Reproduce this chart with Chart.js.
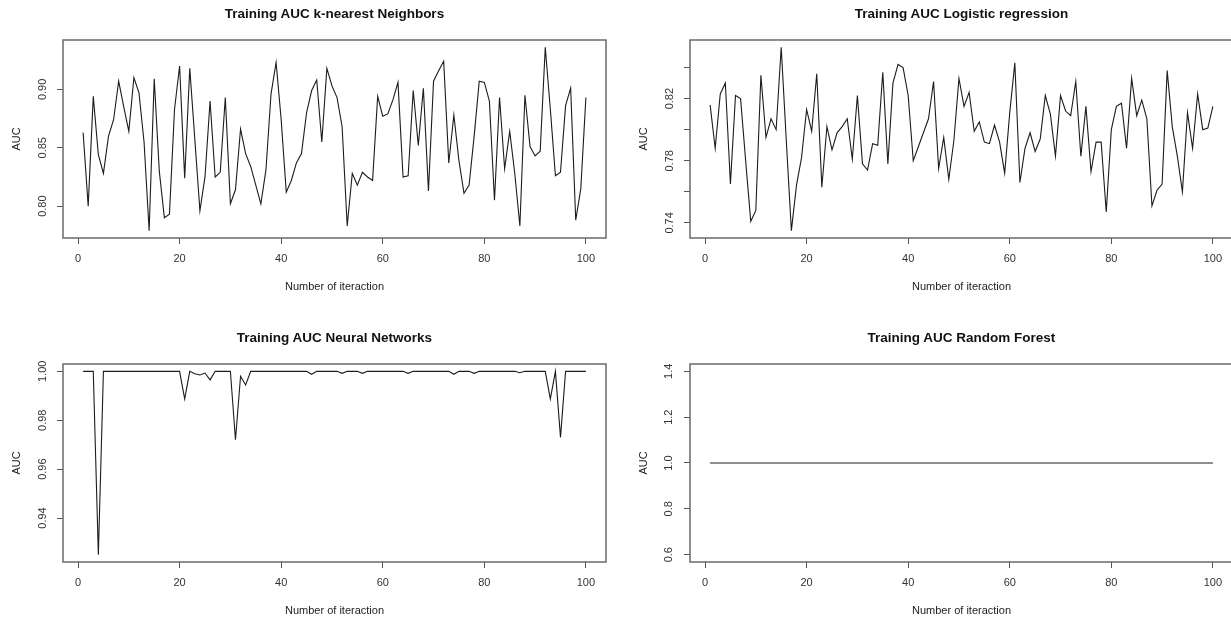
<!DOCTYPE html>
<html>
<head>
<meta charset="utf-8">
<script src="https://cdn.jsdelivr.net/npm/chart.js@4/dist/chart.umd.min.js"></script>
<style>
  html, body { margin: 0; padding: 0; background: #fff; overflow: hidden; width: 1231px; height: 620px; }
  .panel { position: absolute; }
  .ptitle {
    position: absolute; width: 543px; text-align: center;
    font: bold 13.5px 'Liberation Sans', Arial, sans-serif; line-height: 16px; color: #111;
    white-space: nowrap;
  }
</style>
</head>
<body>
<div class="panel" style="left:0px;top:0px"><canvas id="knnChart" width="615" height="310"></canvas></div>
<div class="panel" style="left:627px;top:0px"><canvas id="logitChart" width="615" height="310"></canvas></div>
<div class="panel" style="left:0px;top:324px"><canvas id="nnChart" width="615" height="310"></canvas></div>
<div class="panel" style="left:627px;top:324px"><canvas id="rfChart" width="615" height="310"></canvas></div>

<div class="ptitle" style="left:63px;top:6px">Training AUC k-nearest Neighbors</div>
<div class="ptitle" style="left:690px;top:6px">Training AUC Logistic regression</div>
<div class="ptitle" style="left:63px;top:330px">Training AUC Neural Networks</div>
<div class="ptitle" style="left:690px;top:330px">Training AUC Random Forest</div>

<script>
// iterations 1..100
const iterations = [
  1, 2, 3, 4, 5, 6, 7, 8, 9, 10, 11, 12, 13, 14, 15, 16, 17, 18, 19, 20,
  21, 22, 23, 24, 25, 26, 27, 28, 29, 30, 31, 32, 33, 34, 35, 36, 37, 38, 39, 40,
  41, 42, 43, 44, 45, 46, 47, 48, 49, 50, 51, 52, 53, 54, 55, 56, 57, 58, 59, 60,
  61, 62, 63, 64, 65, 66, 67, 68, 69, 70, 71, 72, 73, 74, 75, 76, 77, 78, 79, 80,
  81, 82, 83, 84, 85, 86, 87, 88, 89, 90, 91, 92, 93, 94, 95, 96, 97, 98, 99, 100
];

const knnAuc = [
  0.863, 0.800, 0.894, 0.844, 0.828, 0.860, 0.874, 0.907, 0.885, 0.864,
  0.910, 0.897, 0.855, 0.779, 0.909, 0.830, 0.790, 0.793, 0.883, 0.920,
  0.824, 0.918, 0.857, 0.796, 0.825, 0.890, 0.825, 0.829, 0.893, 0.802,
  0.814, 0.866, 0.845, 0.834, 0.818, 0.802, 0.831, 0.896, 0.923, 0.874,
  0.812, 0.822, 0.837, 0.845, 0.880, 0.899, 0.908, 0.855, 0.918, 0.903,
  0.893, 0.868, 0.783, 0.828, 0.818, 0.829, 0.825, 0.822, 0.894, 0.877,
  0.879, 0.891, 0.906, 0.825, 0.826, 0.899, 0.852, 0.901, 0.813, 0.907,
  0.916, 0.924, 0.837, 0.878, 0.839, 0.811, 0.818, 0.860, 0.907, 0.906,
  0.890, 0.805, 0.893, 0.832, 0.864, 0.828, 0.783, 0.895, 0.851, 0.843,
  0.847, 0.936, 0.883, 0.826, 0.829, 0.886, 0.901, 0.788, 0.815, 0.893
];

const logitAuc = [
  0.816, 0.788, 0.823, 0.830, 0.765, 0.822, 0.820, 0.780, 0.741, 0.748,
  0.835, 0.795, 0.807, 0.800, 0.853, 0.793, 0.735, 0.764, 0.782, 0.813,
  0.799, 0.836, 0.763, 0.802, 0.787, 0.798, 0.802, 0.807, 0.781, 0.822,
  0.778, 0.774, 0.791, 0.790, 0.837, 0.778, 0.830, 0.842, 0.840, 0.822,
  0.780, 0.789, 0.798, 0.807, 0.831, 0.775, 0.795, 0.768, 0.793, 0.833,
  0.815, 0.824, 0.799, 0.805, 0.792, 0.791, 0.803, 0.792, 0.772, 0.811,
  0.843, 0.766, 0.788, 0.798, 0.786, 0.794, 0.822, 0.810, 0.783, 0.822,
  0.812, 0.809, 0.831, 0.783, 0.815, 0.773, 0.792, 0.792, 0.747, 0.800,
  0.815, 0.817, 0.788, 0.833, 0.809, 0.819, 0.807, 0.751, 0.761, 0.765,
  0.838, 0.802, 0.783, 0.760, 0.811, 0.788, 0.823, 0.800, 0.801, 0.815
];

const nnAuc = [
  1, 1, 1, 0.925, 1, 1, 1, 1, 1, 1,
  1, 1, 1, 1, 1, 1, 1, 1, 1, 1,
  0.9887, 1, 0.999, 0.9985, 0.9993, 0.9965, 1, 1, 1, 1,
  0.972, 0.998, 0.9944, 1, 1, 1, 1, 1, 1, 1,
  1, 1, 1, 1, 1, 0.9988, 1, 1, 1, 1,
  1, 0.9992, 1, 1, 1, 0.9992, 1, 1, 1, 1,
  1, 1, 1, 1, 0.9992, 1, 1, 1, 1, 1,
  1, 1, 1, 0.9988, 1, 1, 1, 0.9992, 1, 1,
  1, 1, 1, 1, 1, 1, 0.9994, 1, 1, 1,
  1, 1, 0.9887, 1, 0.973, 1, 1, 1, 1, 1
];

const rfAuc = [
  1, 1, 1, 1, 1, 1, 1, 1, 1, 1,
  1, 1, 1, 1, 1, 1, 1, 1, 1, 1,
  1, 1, 1, 1, 1, 1, 1, 1, 1, 1,
  1, 1, 1, 1, 1, 1, 1, 1, 1, 1,
  1, 1, 1, 1, 1, 1, 1, 1, 1, 1,
  1, 1, 1, 1, 1, 1, 1, 1, 1, 1,
  1, 1, 1, 1, 1, 1, 1, 1, 1, 1,
  1, 1, 1, 1, 1, 1, 1, 1, 1, 1,
  1, 1, 1, 1, 1, 1, 1, 1, 1, 1,
  1, 1, 1, 1, 1, 1, 1, 1, 1, 1
];

const xTicks = [0, 20, 40, 60, 80, 100];

const knnTicks = [0.80, 0.85, 0.90];
const knnLabels = ['0.80', '0.85', '0.90'];
const logitTicks = [0.74, 0.76, 0.78, 0.80, 0.82, 0.84];
const logitLabels = ['0.74', '', '0.78', '', '0.82', ''];
const nnTicks = [0.94, 0.96, 0.98, 1.00];
const nnLabels = ['0.94', '0.96', '0.98', '1.00'];
const rfTicks = [0.6, 0.8, 1.0, 1.2, 1.4];
const rfLabels = ['0.6', '0.8', '1.0', '1.2', '1.4'];

const FONT = "'Liberation Sans', Arial, sans-serif";

// R-style axis range: data range plus 4% each side
function rRange(values) {
  let lo = Math.min(...values), hi = Math.max(...values);
  if (lo === hi) { lo = lo * 0.6; hi = hi * 1.4; }
  const pad = (hi - lo) * 0.04;
  return [lo - pad, hi + pad];
}

const boxPlugin = {
  id: 'plotBox',
  afterDraw(chart) {
    const { ctx, chartArea } = chart;
    ctx.save();
    ctx.strokeStyle = '#6a6a6a';
    ctx.lineWidth = 1.5;
    ctx.strokeRect(chartArea.left, chartArea.top, chartArea.right - chartArea.left, chartArea.bottom - chartArea.top);
    ctx.restore();
  }
};

function makeChart(id, values, yTicks, yLabels, yPad) {
  const [xMin, xMax] = rRange([iterations[0], iterations[iterations.length - 1]]);
  const [yMin, yMax] = rRange(values);
  return new Chart(document.getElementById(id), {
    type: 'line',
    data: {
      labels: iterations,
      datasets: [{
        data: values,
        borderColor: '#1c1c1c',
        borderWidth: 1.1,
        pointRadius: 0,
        tension: 0,
        fill: false
      }]
    },
    options: {
      responsive: false,
      animation: false,
      devicePixelRatio: 1,
      layout: { padding: { left: 0, right: 9, top: 40, bottom: 0 } },
      plugins: {
        legend: { display: false },
        tooltip: { enabled: false },
        title: { display: false }
      },
      scales: {
        x: {
          type: 'linear',
          min: xMin,
          max: xMax,
          afterBuildTicks: s => { s.ticks = xTicks.map(v => ({ value: v })); },
          afterFit: s => { s.height = 72; },
          grid: { drawOnChartArea: false, drawTicks: true, tickLength: 6, color: '#555', tickWidth: 1 },
          border: { display: false },
          ticks: {
            color: '#333',
            font: { family: FONT, size: 11 },
            padding: 8,
            maxRotation: 0,
            callback: v => String(v)
          },
          title: {
            display: true,
            text: 'Number of iteraction',
            color: '#222',
            font: { family: FONT, size: 11 },
            padding: { top: 0, bottom: 16 }
          }
        },
        y: {
          type: 'linear',
          min: yMin,
          max: yMax,
          afterBuildTicks: s => { s.ticks = yTicks.map(v => ({ value: v })); },
          afterFit: s => { s.width = 63; },
          grid: { drawOnChartArea: false, drawTicks: true, tickLength: 6, color: '#555', tickWidth: 1 },
          border: { display: false },
          ticks: {
            color: '#333',
            font: { family: FONT, size: 11 },
            padding: yPad,
            minRotation: 90,
            maxRotation: 90,
            crossAlign: 'center',
            callback: (v, i) => yLabels[i]
          },
          title: {
            display: true,
            text: 'AUC',
            color: '#222',
            font: { family: FONT, size: 11 },
            padding: { top: 10, bottom: 0 }
          }
        }
      }
    },
    plugins: [boxPlugin]
  });
}

makeChart('knnChart', knnAuc, knnTicks, knnLabels, 3);
makeChart('logitChart', logitAuc, logitTicks, logitLabels, 3);
makeChart('nnChart', nnAuc, nnTicks, nnLabels, 3);
makeChart('rfChart', rfAuc, rfTicks, rfLabels, 7);
</script>
</body>
</html>
